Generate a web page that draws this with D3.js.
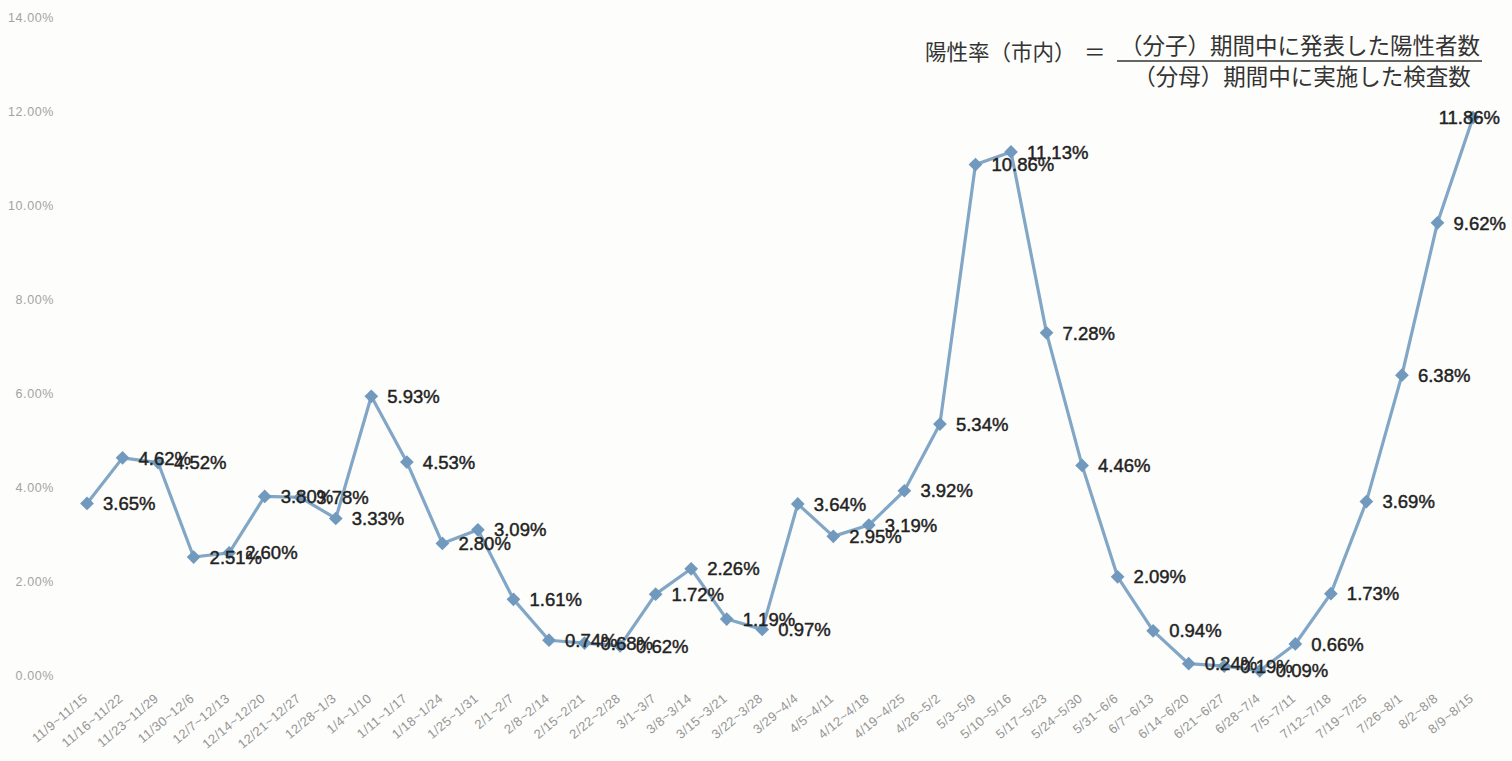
<!DOCTYPE html>
<html>
<head>
<meta charset="utf-8">
<script src="https://cdn.jsdelivr.net/npm/d3@7"></script>
<style>
  body { margin: 0; background: #fdfdfb; }
  svg { display: block; }
</style>
</head>
<body>
<div class="chart"></div>
<script>
var weeks = ["11/9~11/15", "11/16~11/22", "11/23~11/29", "11/30~12/6", "12/7~12/13", "12/14~12/20",
    "12/21~12/27", "12/28~1/3", "1/4~1/10", "1/11~1/17", "1/18~1/24", "1/25~1/31", "2/1~2/7",
    "2/8~2/14", "2/15~2/21", "2/22~2/28", "3/1~3/7", "3/8~3/14", "3/15~3/21", "3/22~3/28",
    "3/29~4/4", "4/5~4/11", "4/12~4/18", "4/19~4/25", "4/26~5/2", "5/3~5/9", "5/10~5/16",
    "5/17~5/23", "5/24~5/30", "5/31~6/6", "6/7~6/13", "6/14~6/20", "6/21~6/27", "6/28~7/4",
    "7/5~7/11", "7/12~7/18", "7/19~7/25", "7/26~8/1", "8/2~8/8", "8/9~8/15"];
var positiveRate = [3.65, 4.62, 4.52, 2.51, 2.60, 3.80, 3.78, 3.33, 5.93, 4.53, 2.80, 3.09, 1.61,
    0.74, 0.68, 0.62, 1.72, 2.26, 1.19, 0.97, 3.64, 2.95, 3.19, 3.92, 5.34, 10.86, 11.13,
    7.28, 4.46, 2.09, 0.94, 0.24, 0.19, 0.09, 0.66, 1.73, 3.69, 6.38, 9.62, 11.86];
var yTicks = [0, 2, 4, 6, 8, 10, 12, 14];
var formulaLeft = "陽性率（市内）";
var formulaEq = "＝";
var formulaTop = "（分子）期間中に発表した陽性者数";
var formulaBottom = "（分母）期間中に実施した検査数";

var width = 1512, height = 761;
var svg = d3.select(".chart").append("svg").attr("width", width).attr("height", height);

var data = weeks.map(function (w, i) { return {week: w, value: positiveRate[i]}; });

// scales
var x = d3.scalePoint().domain(weeks).range([87, 1473]);
var y = d3.scaleLinear().domain([0, 14]).range([675, 17]);

// y axis, only the labels
var yAxis = svg.append("g")
    .attr("transform", "translate(57,0)")
    .call(d3.axisLeft(y).tickValues(yTicks).tickSize(0).tickFormat(function (d) { return d3.format(".2f")(d) + "%"; }));
yAxis.select(".domain").remove();
yAxis.selectAll("text")
    .attr("fill", "#a3a3a3")
    .attr("font-family", "Liberation Sans, Arial, sans-serif")
    .attr("font-size", 12.5)
    .attr("letter-spacing", 0.6);

// x axis labels, rotated
var xAxis = svg.append("g")
    .attr("transform", "translate(0,688)")
    .call(d3.axisBottom(x).tickSize(0));
xAxis.select(".domain").remove();
xAxis.selectAll("text")
    .attr("fill", "#959595")
    .attr("font-family", "Liberation Sans, Arial, sans-serif")
    .attr("font-size", 13)
    .attr("letter-spacing", 0.4)
    .attr("text-anchor", "end")
    .attr("dy", "0.35em")
    .attr("transform", "translate(-4,6) rotate(-40)");

// line
var line = d3.line()
    .x(function (d) { return x(d.week); })
    .y(function (d) { return y(d.value); });

svg.append("path")
    .datum(data)
    .attr("fill", "none")
    .attr("stroke", "#82a6c6")
    .attr("stroke-width", 3.2)
    .attr("stroke-linejoin", "round")
    .attr("d", line);

// diamond markers
svg.append("g")
    .selectAll("path")
    .data(data)
    .enter().append("path")
    .attr("transform", function (d) { return "translate(" + x(d.week) + "," + y(d.value) + ")"; })
    .attr("d", d3.symbol().type(d3.symbolDiamond2).size(120))
    .attr("fill", "#7099bd");

// value labels
svg.append("g")
    .selectAll("text")
    .data(data)
    .enter().append("text")
    .attr("x", function (d, i) { return i === data.length - 1 ? x(d.week) + 27 : x(d.week) + 16; })
    .attr("y", function (d) { return y(d.value); })
    .attr("dy", "0.36em")
    .attr("text-anchor", function (d, i) { return i === data.length - 1 ? "end" : "start"; })
    .attr("font-family", "Liberation Sans, Arial, sans-serif")
    .attr("font-size", 18.5)
    .attr("fill", "#222")
    .attr("stroke", "#222")
    .attr("stroke-width", 0.45)
    .text(function (d) { return d3.format(".2f")(d.value) + "%"; });

// formula, top right
var formula = svg.append("g")
    .attr("font-family", "Noto Sans CJK JP, sans-serif")
    .attr("font-size", 22.5)
    .attr("fill", "#333");
formula.append("text").attr("x", 925).attr("y", 60).attr("font-size", 21.5).text(formulaLeft);
formula.append("text").attr("x", 1084).attr("y", 60).attr("font-size", 21.5).text(formulaEq);
formula.append("text").attr("x", 1300).attr("y", 54).attr("text-anchor", "middle").text(formulaTop);
formula.append("line")
    .attr("x1", 1117).attr("x2", 1482).attr("y1", 61).attr("y2", 61)
    .attr("stroke", "#333").attr("stroke-width", 1.5);
formula.append("text").attr("x", 1302).attr("y", 85).attr("text-anchor", "middle").text(formulaBottom);
</script>
</body>
</html>
